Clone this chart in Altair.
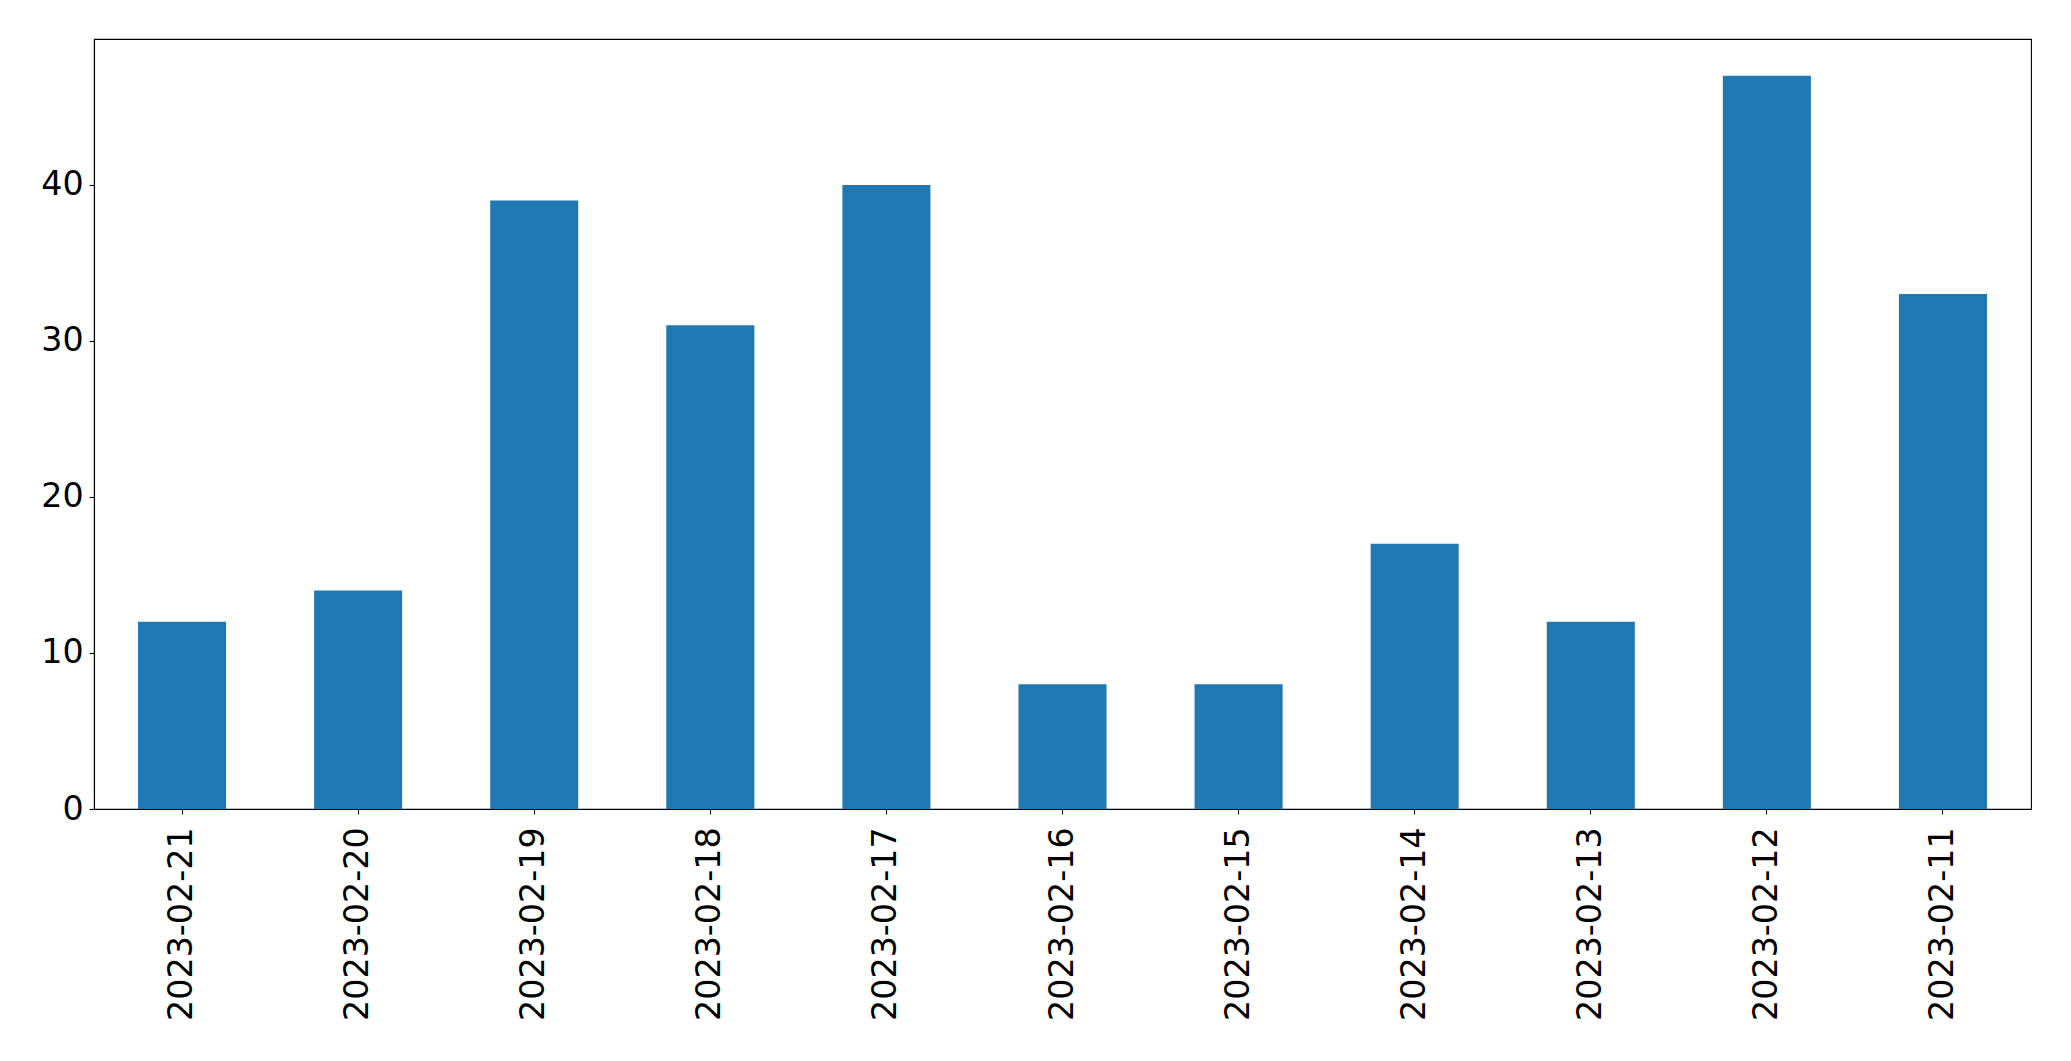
import altair as alt
import pandas as pd

dates = ["2023-02-21", "2023-02-20", "2023-02-19", "2023-02-18", "2023-02-17",
         "2023-02-16", "2023-02-15", "2023-02-14", "2023-02-13", "2023-02-12",
         "2023-02-11"]
counts = [12, 14, 39, 31, 40, 8, 8, 17, 12, 47, 33]

df = pd.DataFrame({"date": dates, "count": counts})

FONT = "DejaVu Sans"

chart = alt.Chart(df).mark_bar(color="#1f77b4").encode(
    x=alt.X("date:N", sort=None, title=None,
            scale=alt.Scale(paddingInner=0.5, paddingOuter=0.25),
            axis=alt.Axis(labelAngle=-90, labelFontSize=33.3, labelFont=FONT,
                          labelColor="black", tickColor="black", tickSize=4.9,
                          tickWidth=1.1, domainColor="black", domainWidth=1.1,
                          labelPadding=13, labelLimit=0, grid=False)),
    y=alt.Y("count:Q", title=None,
            scale=alt.Scale(domain=[0, 49.35], nice=False, zero=True),
            axis=alt.Axis(values=[0, 10, 20, 30, 40], labelFontSize=33.3,
                          labelFont=FONT, labelColor="black", tickColor="black",
                          tickSize=4.9, tickWidth=1.1, domainColor="black",
                          domainWidth=1.1, labelPadding=6, grid=False)),
).properties(
    width=1937,
    height=770,
    autosize=alt.AutoSizeParams(type="none"),
    padding={"left": 86, "top": 31, "right": 30, "bottom": 240},
).configure(
    background="white"
).configure_view(
    stroke="black", strokeWidth=1.1
)

chart.save("out.html", embed_options={"renderer": "svg", "actions": False})
